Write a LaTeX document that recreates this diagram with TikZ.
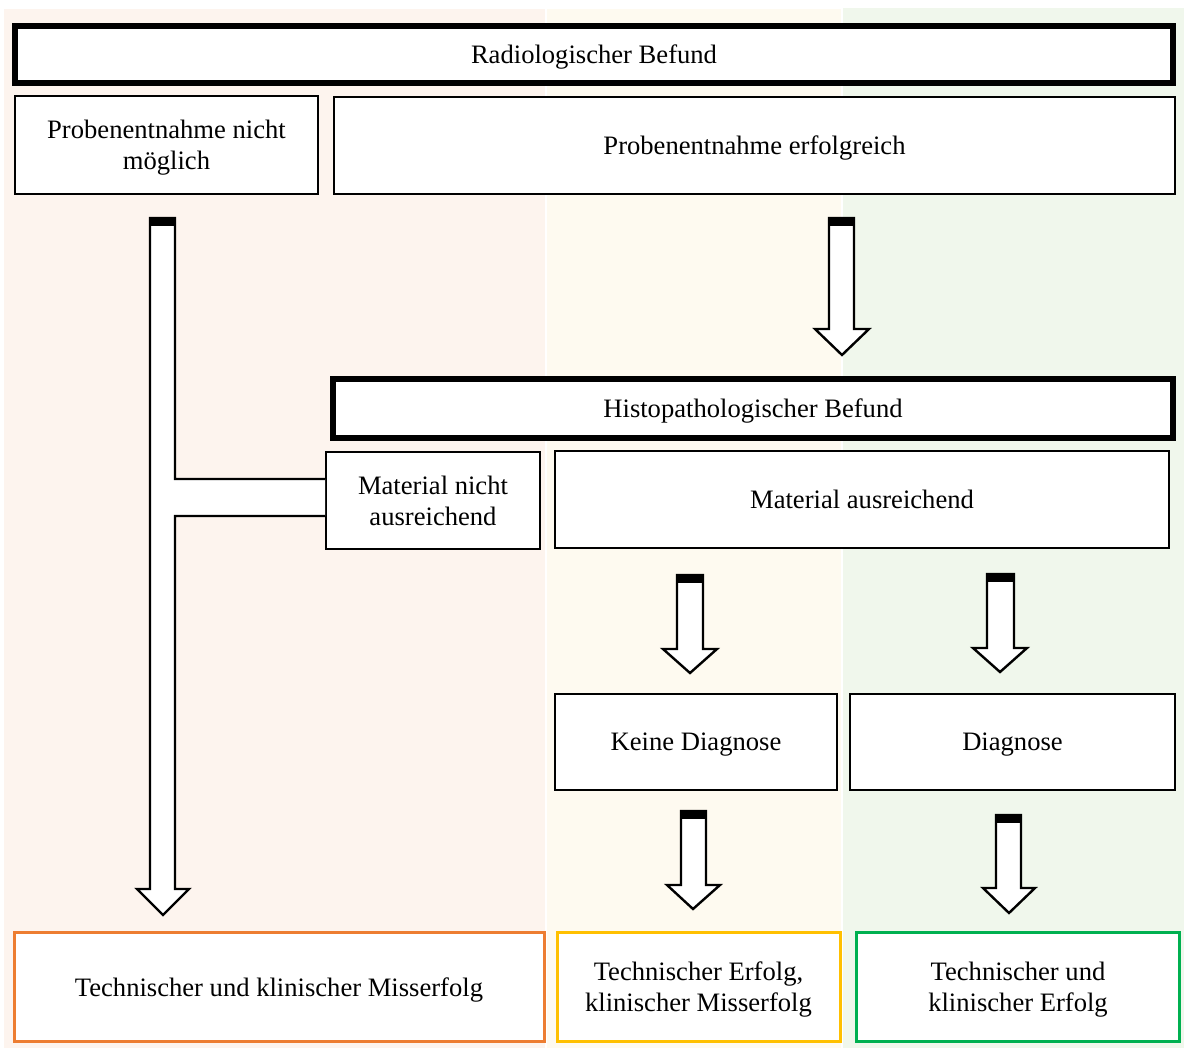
\documentclass[tikz,border=0pt]{standalone}
\usepackage{fontspec}
\setmainfont{Liberation Serif}
\definecolor{bandA}{HTML}{FDF4EE}
\definecolor{bandB}{HTML}{FEFAF0}
\definecolor{bandC}{HTML}{F0F7EC}
\definecolor{cOrange}{HTML}{ED7D31}
\definecolor{cYellow}{HTML}{FFC000}
\definecolor{cGreen}{HTML}{00B050}
\begin{document}
\begin{tikzpicture}[x=0.5pt,y=-0.5pt,
  box/.style={draw=black,line width=1pt,fill=white,inner sep=2pt,align=center,text depth=0pt,font=\fontsize{13.3}{15.3}\selectfont},
  thickbox/.style={box,line width=3pt},
  resbox/.style={box,line width=1.5pt},
  barrow/.style={draw=black,line width=1.2pt,fill=white,line join=miter},
  arrowcap/.style={fill=black}]
\useasboundingbox (0,0) rectangle (1184,1048);
% background bands
\fill[bandA] (4,9) rectangle (545,1048);
\fill[bandB] (547,9) rectangle (841,1048);
\fill[bandC] (843,8) rectangle (1184,1048);
% boxes
\node[thickbox,minimum width=579pt,minimum height=28.5pt] (radio) at (594,54.5) {Radiologischer Befund};
\node[box,minimum width=151.5pt,minimum height=49pt] (pnm) at (166.5,145) {Probenentnahme nicht\\möglich};
\node[box,minimum width=420.5pt,minimum height=48.5pt] (pe) at (754.5,145.5) {Probenentnahme erfolgreich};
\node[thickbox,minimum width=420pt,minimum height=29.5pt] (histo) at (753,408.5) {Histopathologischer Befund};
\node[box,minimum width=107pt,minimum height=48.5pt] (mna) at (433,500.5) {Material nicht\\ausreichend};
\node[box,minimum width=307pt,minimum height=48.5pt] (ma) at (862,499.5) {Material ausreichend};
\node[box,minimum width=141pt,minimum height=48pt] (kd) at (696,742) {Keine Diagnose};
\node[box,minimum width=162.5pt,minimum height=48pt] (dg) at (1012.5,742) {Diagnose};
\node[resbox,draw=cOrange,minimum width=265pt,minimum height=54.5pt] (r1) at (279,987) {Technischer und klinischer Misserfolg};
\node[resbox,draw=cYellow,minimum width=141.5pt,minimum height=54.5pt] (r2) at (698.5,986.5) {Technischer Erfolg,\\klinischer Misserfolg};
\node[resbox,draw=cGreen,minimum width=161.5pt,minimum height=54.5pt] (r3) at (1018,987) {Technischer und\\klinischer Erfolg};
% left T arrow
\fill[white] (150,218) -- (150,889) -- (137,889) -- (163,915) -- (189,889) -- (175,889) -- (175,516) -- (mna.west |- 0,516) -- (mna.west |- 0,479) -- (175,479) -- (175,218) -- cycle;
\draw[barrow,fill=none] (mna.west |- 0,479) -- (175,479) -- (175,218) -- (150,218) -- (150,889) -- (137,889) -- (163,915) -- (189,889) -- (175,889) -- (175,516) -- (mna.west |- 0,516);
\fill[arrowcap] (149.4,218) rectangle (175.6,226);
% block arrows
\draw[barrow] (829,218) -- (829,329) -- (815,329) -- (842,355) -- (869,329) -- (854,329) -- (854,218) -- cycle;
\fill[arrowcap] (828.4,218) rectangle (854.6,226);
\draw[barrow] (677,575) -- (677,649) -- (663,649) -- (690,673) -- (717,649) -- (703,649) -- (703,575) -- cycle;
\fill[arrowcap] (676.4,575) rectangle (703.6,583);
\draw[barrow] (987,574) -- (987,648) -- (973,648) -- (1000,672) -- (1027,648) -- (1014,648) -- (1014,574) -- cycle;
\fill[arrowcap] (986.4,574) rectangle (1014.6,582);
\draw[barrow] (681,811) -- (681,885) -- (667,885) -- (693,909) -- (720,885) -- (706,885) -- (706,811) -- cycle;
\fill[arrowcap] (680.4,811) rectangle (706.6,819);
\draw[barrow] (996,815) -- (996,888) -- (983,888) -- (1009,913) -- (1035,888) -- (1021,888) -- (1021,815) -- cycle;
\fill[arrowcap] (995.4,815) rectangle (1021.6,823);
\end{tikzpicture}
\end{document}
